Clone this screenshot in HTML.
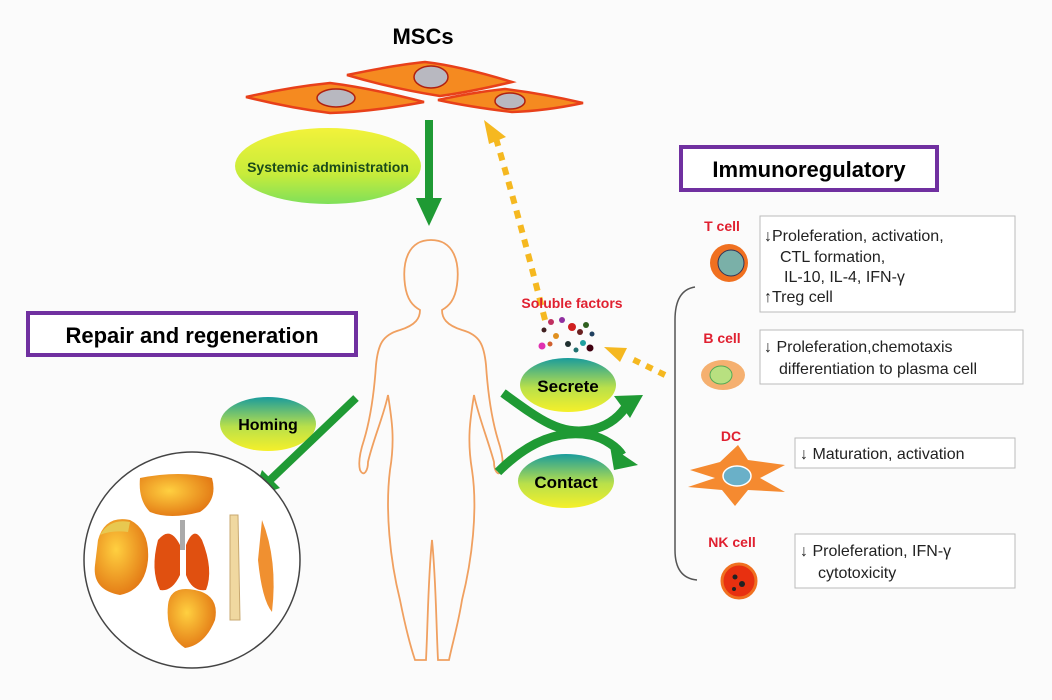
<!DOCTYPE html>
<html><head><meta charset="utf-8"><style>
body{margin:0;background:#fff}
svg{display:block}
text{font-family:"Liberation Sans",Arial,sans-serif}
</style></head><body>
<svg width="1052" height="700" viewBox="0 0 1052 700" xmlns="http://www.w3.org/2000/svg">
<defs>
<linearGradient id="gy" x1="0" y1="0" x2="0" y2="1"><stop offset="0" stop-color="#f2f23a"/><stop offset="0.6" stop-color="#c8ec3a"/><stop offset="1" stop-color="#7fe05a"/></linearGradient>
<linearGradient id="gt" x1="0" y1="0" x2="0" y2="1"><stop offset="0" stop-color="#1a9c9c"/><stop offset="0.55" stop-color="#b9e04a"/><stop offset="1" stop-color="#f5f02a"/></linearGradient>
<radialGradient id="org" cx="0.4" cy="0.4" r="0.7"><stop offset="0" stop-color="#ffd040"/><stop offset="1" stop-color="#e07010"/></radialGradient>
</defs>
<rect width="1052" height="700" fill="#fbfbfb"/>
<text x="423" y="44" font-size="22" font-weight="bold" text-anchor="middle">MSCs</text>
<g stroke="#e8401a" stroke-width="2.5" fill="#f58a20">
<path d="M246,97 Q290,87 330,83 Q370,88 424,102 Q370,112 330,113 Q290,108 246,97z"/>
<path d="M347,75 Q395,65 425,62 Q460,66 512,82 Q470,92 440,96 Q390,88 347,75z"/>
<path d="M438,100 Q475,92 505,89 Q545,94 583,103 Q545,111 512,112 Q470,107 438,100z"/>
</g>
<g fill="#b8b8c0" stroke="#b02010" stroke-width="1.5">
<ellipse cx="336" cy="98" rx="19" ry="9"/><ellipse cx="431" cy="77" rx="17" ry="11"/><ellipse cx="510" cy="101" rx="15" ry="8"/>
</g>
<ellipse cx="328" cy="166" rx="93" ry="38" fill="url(#gy)"/>
<text x="328" y="172" font-size="14" font-weight="bold" text-anchor="middle" fill="#1a4a1a">Systemic administration</text>
<line x1="429" y1="120" x2="429" y2="200" stroke="#1f9a34" stroke-width="8"/>
<path d="M416,198 L442,198 L429,226z" fill="#1f9a34"/>
<path d="M545,320 Q520,220 495,135" stroke="#f5b820" stroke-width="6" fill="none" stroke-dasharray="8,7"/>
<path d="M484,120 L506,137 L489,144z" fill="#f5b820"/>
<path d="M665,375 L630,358" stroke="#f5b820" stroke-width="6" fill="none" stroke-dasharray="7,7"/>
<path d="M604,347 L627,348 L620,362z" fill="#f5b820"/>
<rect x="681" y="147" width="256" height="43" fill="#fff" stroke="#7030a0" stroke-width="4"/>
<text x="809" y="177" font-size="22" font-weight="bold" text-anchor="middle">Immunoregulatory</text>
<rect x="28" y="313" width="328" height="42" fill="#fff" stroke="#7030a0" stroke-width="4"/>
<text x="192" y="343" font-size="22" font-weight="bold" text-anchor="middle">Repair and regeneration</text>
<path d="M431,240 C408,240 402,262 405,285 C407,300 413,306 420,310 C420,318 416,325 400,330 C382,335 378,345 376,365 C374,395 370,420 364,440 C360,452 358,462 360,470 C364,478 368,470 368,462 C373,440 384,415 388,395 C392,420 395,440 390,470 C385,510 390,560 400,600 C405,625 410,645 415,660 L426,660 C428,620 428,580 432,540 C436,580 436,620 438,660 L449,660 C452,645 458,625 462,600 C472,560 478,510 472,470 C467,440 470,420 474,395 C478,415 488,440 494,462 C494,470 498,478 502,470 C504,462 502,452 498,440 C492,420 488,395 486,365 C484,345 480,335 462,330 C446,325 442,318 442,310 C449,306 455,300 457,285 C460,262 454,240 431,240z" fill="none" stroke="#f0a060" stroke-width="1.8"/>
<text x="572" y="308" font-size="14" font-weight="bold" fill="#e02030" text-anchor="middle">Soluble factors</text>
<g>
<circle cx="551" cy="322" r="3" fill="#c03060"/><circle cx="562" cy="320" r="3" fill="#9030a0"/><circle cx="572" cy="327" r="4" fill="#d02020"/><circle cx="586" cy="325" r="3" fill="#306020"/><circle cx="544" cy="330" r="2.5" fill="#402020"/><circle cx="580" cy="332" r="3" fill="#6a2020"/><circle cx="556" cy="336" r="3" fill="#e09020"/><circle cx="568" cy="344" r="3" fill="#203030"/><circle cx="583" cy="343" r="3" fill="#20a0a0"/><circle cx="542" cy="346" r="3.5" fill="#e030b0"/><circle cx="590" cy="348" r="3.5" fill="#400010"/><circle cx="550" cy="344" r="2.5" fill="#d06030"/><circle cx="576" cy="350" r="2.5" fill="#207070"/><circle cx="592" cy="334" r="2.5" fill="#204060"/>
</g>
<ellipse cx="568" cy="385" rx="48" ry="27" fill="url(#gt)"/>
<text x="568" y="392" font-size="17" font-weight="bold" text-anchor="middle">Secrete</text>
<ellipse cx="566" cy="481" rx="48" ry="27" fill="url(#gt)"/>
<text x="566" y="488" font-size="17" font-weight="bold" text-anchor="middle">Contact</text>
<path d="M503,393 C540,420 560,435 590,430 C610,426 620,415 625,408" stroke="#1f9a34" stroke-width="9" fill="none"/>
<path d="M614,396 L643,395 L630,418z" fill="#1f9a34"/>
<path d="M498,472 C530,440 560,430 590,435 C605,438 618,448 622,455" stroke="#1f9a34" stroke-width="9" fill="none"/>
<path d="M610,446 L638,465 L614,470z" fill="#1f9a34"/>
<ellipse cx="268" cy="424" rx="48" ry="27" fill="url(#gt)"/>
<text x="268" y="430" font-size="16" font-weight="bold" text-anchor="middle">Homing</text>
<line x1="356" y1="398" x2="268" y2="482" stroke="#1f9a34" stroke-width="8"/>
<path d="M252,498 L262,470 L280,488z" fill="#1f9a34"/>
<circle cx="192" cy="560" r="108" fill="#fff" stroke="#444" stroke-width="1.5"/>
<path d="M140,478 Q180,470 212,478 Q218,500 200,512 Q170,520 150,512 Q138,500 140,478z" fill="url(#org)"/>
<path d="M98,540 Q105,515 130,520 Q150,530 148,560 Q145,590 120,595 Q92,590 95,565z" fill="url(#org)"/>
<path d="M100,535 Q110,518 130,522 L128,532 Q112,530 100,535z" fill="#e8c850"/>
<path d="M158,540 Q150,570 160,590 Q172,592 180,575 L180,545 Q170,525 158,540z" fill="#e05010"/>
<path d="M202,540 Q214,570 206,590 Q192,592 186,575 L186,545 Q194,525 202,540z" fill="#e05010"/>
<rect x="180" y="520" width="5" height="30" fill="#aaa"/>
<path d="M230,515 L238,515 L240,620 L230,620z" fill="#f0d8a0" stroke="#c8a870"/>
<path d="M262,520 Q278,560 272,612 Q262,600 258,560z" fill="#f09030"/>
<path d="M168,605 Q170,585 195,590 Q220,595 215,620 Q205,645 185,648 Q165,635 168,605z" fill="url(#org)"/>
<path d="M695,287 Q675,290 675,320 L675,550 Q675,578 697,580" fill="none" stroke="#555" stroke-width="1.5"/>
<g font-size="14" font-weight="bold" fill="#e02030" text-anchor="middle">
<text x="722" y="231">T cell</text><text x="722" y="343">B cell</text><text x="731" y="441">DC</text><text x="732" y="547">NK cell</text>
</g>
<circle cx="729" cy="263" r="19" fill="#f07020"/><circle cx="731" cy="263" r="13" fill="#7ab0a8" stroke="#335" stroke-width="1"/>
<ellipse cx="723" cy="375" rx="22" ry="15" fill="#f5b070"/><ellipse cx="721" cy="375" rx="11" ry="9" fill="#b8e080" stroke="#5a5"/>
<path d="M690,470 L720,462 L738,445 L748,460 L785,465 L760,478 L785,492 L748,490 L735,506 L722,490 L688,487 L715,478z" fill="#f58a30"/>
<ellipse cx="737" cy="476" rx="14" ry="10" fill="#6ab0c8" stroke="#fff" stroke-width="1.5"/>
<circle cx="739" cy="581" r="17" fill="#e83010" stroke="#f07020" stroke-width="3"/>
<circle cx="735" cy="577" r="2.5" fill="#222"/><circle cx="742" cy="584" r="3" fill="#222"/><circle cx="734" cy="589" r="2" fill="#222"/>
<g fill="#fff" stroke="#bbb" stroke-width="1">
<rect x="760" y="216" width="255" height="96"/>
<rect x="760" y="330" width="263" height="54"/>
<rect x="795" y="438" width="220" height="30"/>
<rect x="795" y="534" width="220" height="54"/>
</g>
<g font-size="16" fill="#222">
<text x="764" y="241">↓Proleferation, activation,</text>
<text x="780" y="262">CTL formation,</text>
<text x="784" y="282">IL-10, IL-4, IFN-γ</text>
<text x="764" y="302">↑Treg cell</text>
<text x="764" y="352">↓ Proleferation,chemotaxis</text>
<text x="779" y="374">differentiation to plasma cell</text>
<text x="800" y="459">↓ Maturation, activation</text>
<text x="800" y="556">↓ Proleferation, IFN-γ</text>
<text x="818" y="578">cytotoxicity</text>
</g>
</svg>
</body></html>
